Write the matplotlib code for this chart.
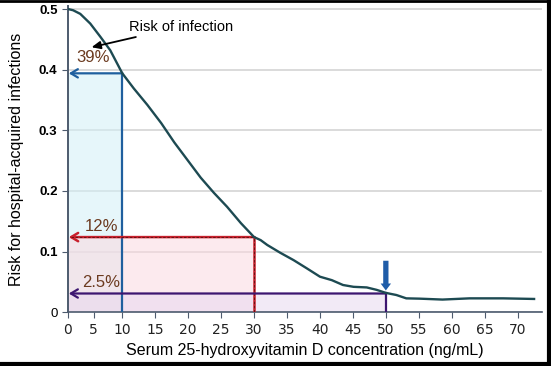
import numpy as np
import matplotlib.pyplot as plt
from matplotlib.lines import Line2D

# curve: risk vs serum 25(OH)D
vit_d = [0, 1, 2.4, 4.35, 6.2, 7.9, 10, 11.75, 13.8, 15.9, 17.9, 19.9, 21.9, 23.9,
         25.9, 28.0, 30, 31, 32, 34, 35, 36, 38, 40, 41.8, 43.5, 45.1, 47.1, 48.6,
         50, 51.6, 53.1, 55.1, 58.6, 62.7, 67.8, 72.5]
risk = [0.500, 0.498, 0.492, 0.476, 0.454, 0.432, 0.394, 0.369, 0.342, 0.312,
        0.280, 0.251, 0.222, 0.197, 0.174, 0.147, 0.124, 0.119, 0.111, 0.098,
        0.092, 0.086, 0.0725, 0.0587, 0.053, 0.045, 0.042, 0.041, 0.037, 0.032,
        0.0285, 0.023, 0.0225, 0.021, 0.023, 0.023, 0.022]

# marked levels
mark_x = [10, 30, 50]
mark_y = [0.394, 0.124, 0.031]
mark_labels = ["39%", "12%", "2.5%"]

xticks = list(range(0, 75, 5))
yticks = [0, 0.1, 0.2, 0.3, 0.4, 0.5]
ytick_labels = ["0", "0.1", "0.2", "0.3", "0.4", "0.5"]

# the original x axis is squeezed a bit between 0 and 10
scale_in = [0, 5, 10, 100]
scale_out = [0, 3.885, 8.24, 98.24]

def fwd(v):
    return np.interp(v, scale_in, scale_out)

def inv(v):
    return np.interp(v, scale_out, scale_in)

plt.rcParams['font.family'] = ['Liberation Sans', 'DejaVu Sans']

fig = plt.figure(figsize=(5.51, 3.66), dpi=100)
ax = fig.add_axes([68/551, 1-312.3/366, 474/551, (312.3-6)/366])

ax.set_xscale('function', functions=(fwd, inv))
ax.set_xlim(0, 73.7)
ax.set_ylim(0, 0.505)

# shaded rectangles
fills = ['#d3f0f7', '#fbd9e0', '#e9d9f0']
for mx, my, fc in zip(mark_x, mark_y, fills):
    ax.fill_between([0, mx], 0, my, color=fc, alpha=0.55, lw=0, zorder=1)

ax.grid(axis='y', color='#d4d4d4', lw=1.2, zorder=0)
ax.set_axisbelow(True)

# guide lines
blue = '#1f5f9e'
red = '#c8202c'
purple = '#3d1670'
head = '->,head_length=0.5,head_width=0.3'

ax.plot([mark_x[0], mark_x[0]], [0, mark_y[0]], color=blue, lw=1.6, zorder=3)
ax.annotate('', xy=(0.15, mark_y[0]), xytext=(mark_x[0], mark_y[0]),
            arrowprops=dict(arrowstyle=head, color=blue, lw=1.6, shrinkA=0, shrinkB=0), zorder=3)

ax.plot([mark_x[1], mark_x[1]], [0, mark_y[1]], color=red, lw=1.8, zorder=3)
ax.plot([mark_x[1], mark_x[1]], [0, mark_y[1]], color='#5a1010', lw=0.6, ls=(0, (3, 2)), zorder=3)
ax.plot([0.6, mark_x[1]], [mark_y[1], mark_y[1]], color='#5a1010', lw=0.6, ls=(0, (3, 2)), zorder=4)
ax.annotate('', xy=(0.15, mark_y[1]), xytext=(mark_x[1], mark_y[1]),
            arrowprops=dict(arrowstyle=head, color=red, lw=1.8, shrinkA=0, shrinkB=0), zorder=3)

ax.plot([mark_x[2], mark_x[2]], [0, mark_y[2]], color=purple, lw=1.6, zorder=3)
ax.annotate('', xy=(0.15, mark_y[2]), xytext=(mark_x[2], mark_y[2]),
            arrowprops=dict(arrowstyle=head, color=purple, lw=1.6, shrinkA=0, shrinkB=0), zorder=3)

# curve
ax.plot(vit_d, risk, color='#1d4a52', lw=1.7, zorder=5)

# percent labels
label_pos = [(4.8, 0.420), (6.3, 0.141), (6.3, 0.049)]
for (lx, ly), txt in zip(label_pos, mark_labels):
    ax.text(lx, ly, txt, color='#6b3a1f', fontsize=12, ha='center', va='center', zorder=6)

# "Risk of infection" callout
ax.annotate('Risk of infection', xy=(4.6, 0.437), xytext=(11.0, 0.471),
            fontsize=10.5, ha='left', va='center',
            arrowprops=dict(arrowstyle='-|>,head_length=0.5,head_width=0.22',
                            color='black', lw=1.3, shrinkA=2, shrinkB=0), zorder=6)

# blue arrow pointing to 50 ng/mL
ax.annotate('', xy=(mark_x[2], 0.036), xytext=(mark_x[2], 0.085),
            arrowprops=dict(arrowstyle='simple,head_width=0.75,head_length=0.5,tail_width=0.38',
                            color='#1f5ca8', lw=0, shrinkA=0, shrinkB=0), zorder=6)

# axes styling
for s in ['top', 'right']:
    ax.spines[s].set_visible(False)
ax.spines['left'].set_color('#4d5b6e')
ax.spines['bottom'].set_color('#4d5b6e')
ax.spines['left'].set_linewidth(1.4)
ax.spines['bottom'].set_linewidth(1.2)

ax.set_xticks(xticks)
ax.set_xticklabels([str(t) for t in xticks], fontsize=10, family='DejaVu Sans', color='#222222')
ax.set_yticks(yticks)
ax.set_yticklabels(ytick_labels, fontsize=9.5)
for lab in ax.get_yticklabels()[1:]:
    lab.set_fontweight('bold')
ax.tick_params(axis='both', direction='out', length=4, color='#4d5b6e')

ax.set_xlabel('Serum 25-hydroxyvitamin D concentration (ng/mL)', fontsize=11.5)
ax.set_ylabel('Risk for hospital-acquired infections', fontsize=11.5)
ax.xaxis.set_label_coords(0.5, -0.10)
ax.yaxis.set_label_coords(-0.092, 0.5)

# black frame around the image
fig.add_artist(Line2D([0, 1], [0.997, 0.997], transform=fig.transFigure, color='black', lw=2))
fig.add_artist(Line2D([0.996, 0.996], [0, 1], transform=fig.transFigure, color='black', lw=3))
fig.add_artist(Line2D([0, 1], [0.005, 0.005], transform=fig.transFigure, color='black', lw=3))

fig.savefig('out.png', dpi=100)
